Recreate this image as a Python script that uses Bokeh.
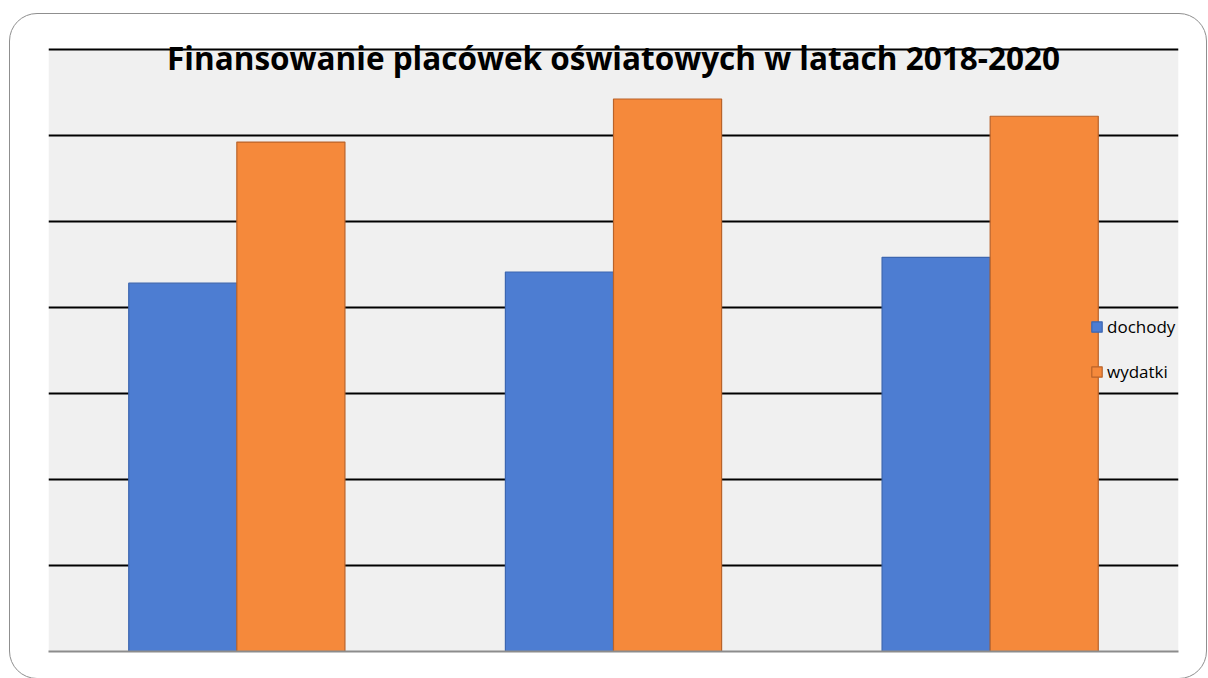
from bokeh.plotting import figure
from bokeh.models import (FactorRange, Label, Legend, LegendItem, SingleIntervalTicker,
                          FixedTicker, ColumnDataSource, BoxAnnotation)
from bokeh.transform import dodge
from bokeh.embed import file_html
from bokeh.resources import INLINE

years = ["2018", "2019", "2020"]
dochody = [4.28, 4.41, 4.58]
wydatki = [5.92, 6.42, 6.22]
title_text = "Finansowanie placówek oświatowych w latach 2018-2020"
y_max = 7

src = ColumnDataSource(data=dict(years=years, dochody=dochody, wydatki=wydatki))

p = figure(x_range=FactorRange(*years), y_range=(0, y_max + 0.1),
           frame_width=1130, frame_height=611,
           min_border_left=38, min_border_right=28, min_border_top=26, min_border_bottom=27,
           output_backend="svg", toolbar_location=None)
p.styles = {"border": "1.5px solid #8f8f8f", "border-radius": "28px",
            "margin-left": "9px", "margin-top": "13px"}

p.border_fill_color = None
p.background_fill_color = "white"
p.outline_line_color = None

# grey plot-area band from 0 to the top gridline
p.add_layout(BoxAnnotation(bottom=0, top=y_max, fill_color="#f0f0f0", fill_alpha=1,
                           line_color=None, level="image"))

p.x_range.range_padding = 0
p.yaxis.visible = False
p.xaxis.ticker = FixedTicker(ticks=[])
p.xaxis.major_tick_line_color = None
p.xaxis.minor_tick_line_color = None
p.xaxis.axis_line_color = "#8c8c8c"
p.xaxis.axis_line_width = 2
p.xgrid.grid_line_color = None
p.ygrid.ticker = SingleIntervalTicker(interval=1)
p.ygrid.grid_line_color = "black"
p.ygrid.grid_line_width = 2

bw = 0.287
r1 = p.vbar(x=dodge("years", -bw / 2, range=p.x_range), top="dochody", width=bw, source=src,
            fill_color="#4d7dd2", line_color="#3c66b0", line_width=1.2)
r2 = p.vbar(x=dodge("years", bw / 2, range=p.x_range), top="wydatki", width=bw, source=src,
            fill_color="#f5893b", line_color="#b9632a", line_width=1.2)

legend = Legend(items=[LegendItem(label="dochody", renderers=[r1]),
                       LegendItem(label="wydatki", renderers=[r2])],
                location=(1042, 268), background_fill_alpha=0, border_line_color=None,
                label_text_font="Open Sans", label_text_font_size="17px",
                label_text_color="black",
                glyph_width=13, glyph_height=13, label_height=20, spacing=22,
                label_standoff=4, padding=0, margin=0)
p.add_layout(legend)

p.add_layout(Label(x=1.5, y=y_max, text=title_text, text_align="center", text_baseline="alphabetic",
                   y_offset=-8, text_font="Open Sans", text_font_style="bold",
                   text_font_size="31.5px", text_color="black"))

open("out.html", "w").write(file_html(p, INLINE))
